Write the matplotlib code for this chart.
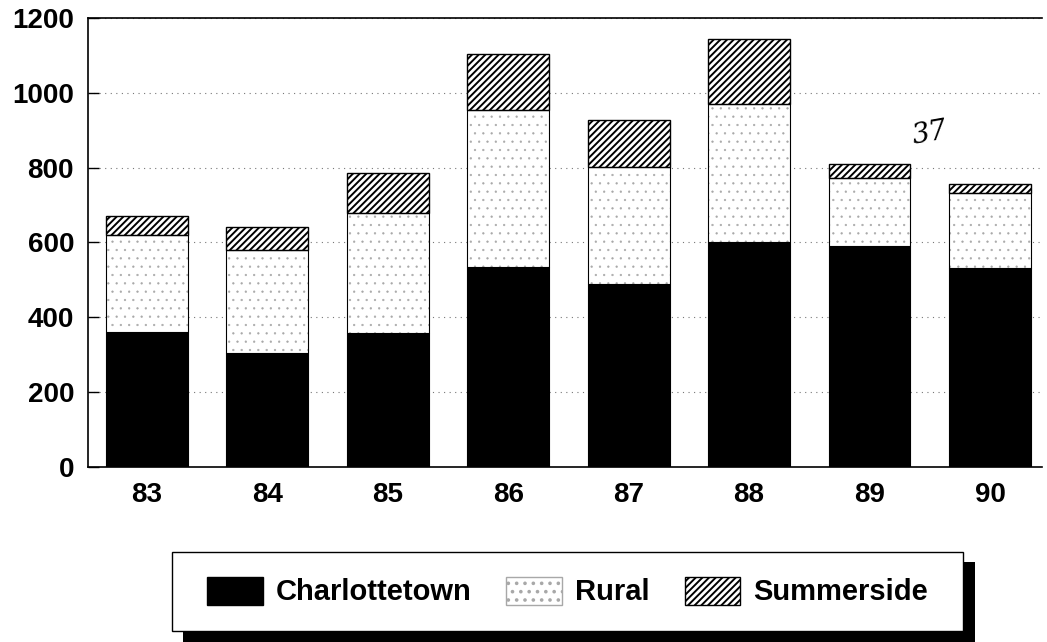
import matplotlib.pyplot as plt
from matplotlib.patches import Rectangle, Patch
import numpy as np

plt.rcParams['font.family'] = ['Liberation Sans', 'DejaVu Sans']
plt.rcParams['font.weight'] = 'bold'
plt.rcParams['hatch.linewidth'] = 1.4

# values
years = ['83', '84', '85', '86', '87', '88', '89', '90']
charlottetown = [361, 305, 357, 535, 488, 602, 591, 533]
rural = [259, 275, 321, 419, 314, 368, 182, 198]
summerside = [52, 62, 109, 151, 125, 173, 37, 25]

x = np.arange(len(years))
c = np.array(charlottetown)
r = np.array(rural)
s = np.array(summerside)
w = 0.68
dot_col = '#a8a8a8'

fig = plt.figure(figsize=(10.47, 6.42), dpi=100)
ax = fig.add_axes([0.084, 0.2726, 0.911, 0.6994])

ax.bar(x, c, w, color='black', edgecolor='black', linewidth=0.8, zorder=3)
with plt.rc_context({'hatch.linewidth': 0.4}):
    ax.bar(x, r, w, bottom=c, color='white', edgecolor=dot_col, hatch='..', linewidth=0, zorder=3)
ax.bar(x, r, w, bottom=c, fill=False, edgecolor='black', linewidth=0.8, zorder=4)
ax.bar(x, s, w, bottom=c + r, color='white', edgecolor='black', hatch='/////', linewidth=1.0, zorder=3)

ax.set_xlim(-0.49, 7.43)
ax.set_ylim(0, 1200)
ax.set_yticks(range(0, 1201, 200))
ax.set_xticks(x)
ax.set_xticklabels(years)
ax.tick_params(axis='y', direction='in', length=8, width=1, pad=10, labelsize=20)
ax.tick_params(axis='x', length=0, pad=11, labelsize=20)
ax.yaxis.grid(True, linestyle=(0, (1, 4)), color='#777777', linewidth=0.8, zorder=0)
ax.set_axisbelow(True)
ax.spines['right'].set_visible(False)
for sp in ['left', 'top', 'bottom']:
    ax.spines[sp].set_linewidth(1.2)

# handwritten note on the scan
ax.text(6.5, 890, '37', fontsize=20, fontweight='normal', style='italic',
        family='DejaVu Serif', rotation=10, ha='center', va='center')

# legend box with solid drop shadow
W, H = 1047, 642
fig.patches.append(Rectangle((183 / W, 0), (975 - 183) / W, (642 - 562) / H,
                             transform=fig.transFigure, facecolor='black',
                             edgecolor='none', zorder=1))
fig.patches.append(Rectangle((172 / W, 11 / H), (963 - 172) / W, 79 / H,
                             transform=fig.transFigure, facecolor='white',
                             edgecolor='black', linewidth=1.0, zorder=2))

with plt.rc_context({'hatch.linewidth': 0.4}):
    rural_handle = Patch(facecolor='white', edgecolor=dot_col, hatch='..', label='Rural')
handles = [
    Patch(facecolor='black', edgecolor='black', label='Charlottetown'),
    rural_handle,
    Patch(facecolor='white', edgecolor='black', hatch='/////', label='Summerside'),
]
leg = fig.legend(handles=handles, loc='center', bbox_to_anchor=(567.5 / W, 1 - 591.5 / H),
                 ncol=3, frameon=False, fontsize=21, handlelength=1.9, handleheight=1.1,
                 handletextpad=0.45, columnspacing=1.2)
leg.set_zorder(5)

fig.savefig('out.png', dpi=100)
